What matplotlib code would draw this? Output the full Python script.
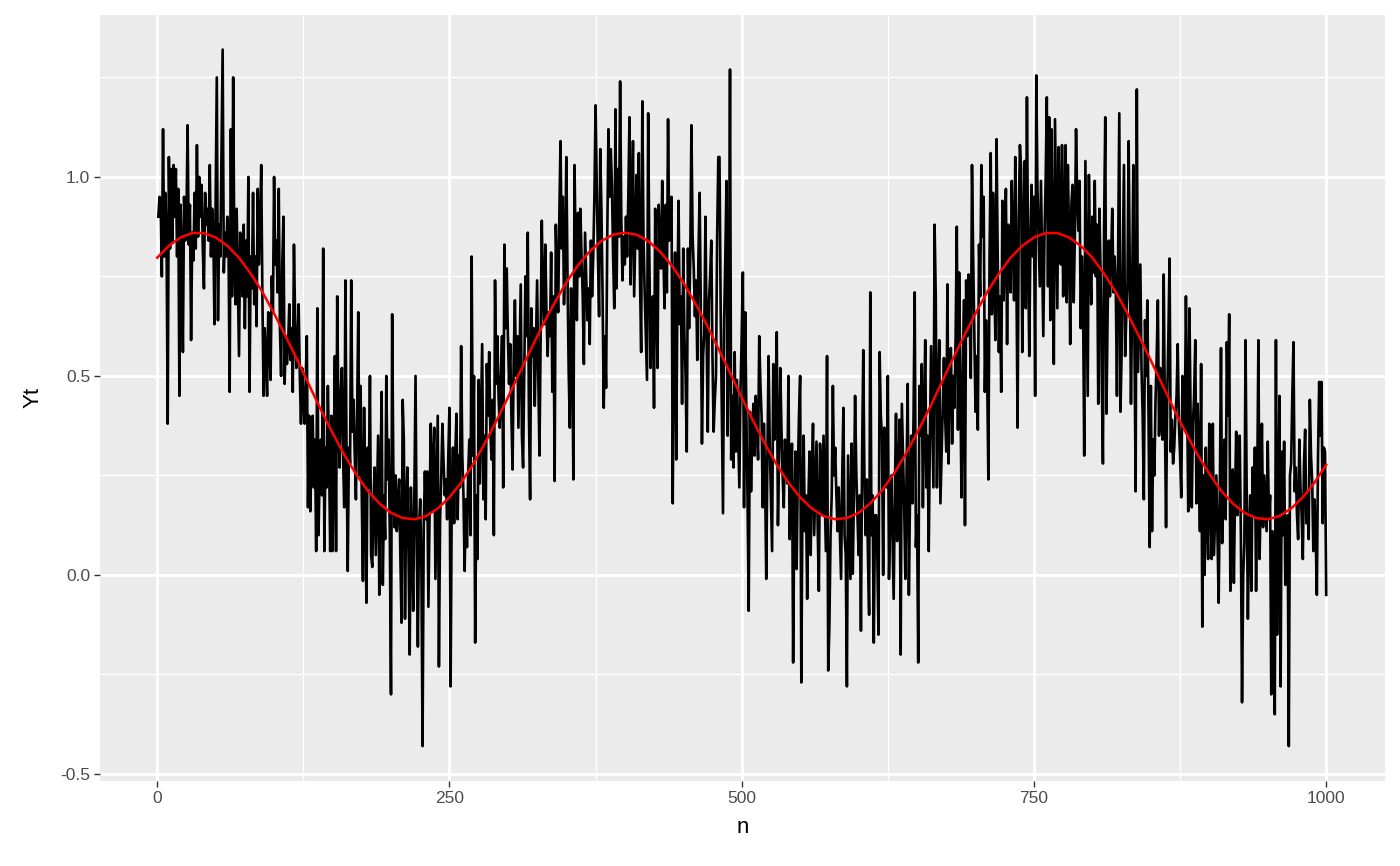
import matplotlib
matplotlib.use("Agg")
import matplotlib.pyplot as plt
import numpy as np

# ---- data ----
yt = [
    # n = 1..79
    0.90, 0.95, 0.94, 0.75, 1.12, 0.80, 0.96, 0.85, 0.38, 1.05,
    0.82, 1.02, 0.84, 1.03, 0.90, 1.02, 0.80, 0.97, 0.45, 0.93,
    0.80, 0.56, 0.95, 0.84, 0.88, 1.13, 0.83, 0.93, 0.59, 0.86,
    0.79, 0.96, 0.82, 1.08, 0.85, 1.00, 0.90, 0.98, 0.82, 0.72,
    0.96, 0.88, 0.92, 0.84, 1.03, 0.80, 0.92, 0.86, 0.63, 0.95,
    1.25, 0.64, 0.88, 0.80, 1.05, 1.32, 0.76, 0.86, 0.80, 0.90,
    0.84, 0.46, 1.12, 0.70, 1.25, 0.80, 0.68, 0.92, 0.74, 0.55,
    0.86, 0.80, 0.70, 0.88, 0.62, 0.84, 0.70, 1.00, 0.46,
    # n = 80..164
    0.80, 0.72, 0.96, 0.68, 0.80, 0.625, 0.97, 0.78, 0.88, 1.03,
    0.70, 0.45, 0.62, 0.55, 0.45, 0.66, 0.59, 0.49, 0.75, 0.66,
    1.00, 0.78, 0.84, 0.71, 0.97, 0.62, 0.50, 0.78, 0.90, 0.48,
    0.60, 0.53, 0.58, 0.68, 0.54, 0.62, 0.46, 0.83, 0.64, 0.52,
    0.58, 0.68, 0.50, 0.38, 0.52, 0.44, 0.38, 0.48, 0.60, 0.17,
    0.40, 0.16, 0.30, 0.40, 0.22, 0.34, 0.06, 0.67, 0.10, 0.26,
    0.34, 0.20, 0.82, 0.06, 0.32, 0.22, 0.475, 0.30, 0.06, 0.40,
    0.06, 0.28, 0.55, 0.06, 0.70, 0.40, 0.27, 0.46, 0.52, 0.30,
    0.17, 0.74, 0.30, 0.01, 0.32,
    # n = 165..250
    0.28, 0.74, 0.36, 0.44, 0.30, 0.19, 0.40, 0.66, 0.25, 0.475,
    0.20, -0.015, 0.42, 0.15, -0.07, 0.32, 0.22, 0.50, 0.05, 0.02,
    0.18, 0.27, 0.05, 0.20, 0.35, -0.05, 0.24, 0.46, -0.025, 0.20,
    0.09, 0.50, 0.24, 0.34, 0.10, -0.30, 0.655, 0.27, 0.12, 0.25,
    0.11, 0.18, 0.24, 0.05, -0.12, 0.44, 0.34, -0.11, 0.18, 0.27,
    0.05, -0.20, 0.22, 0.10, -0.09, 0.20, 0.50, 0.08, -0.18, 0.12,
    0.19, 0.02, -0.43, 0.12, 0.26, 0.14, 0.26, -0.08, 0.15, 0.38,
    0.16, 0.28, 0.37, -0.01, 0.20, 0.40, -0.23, 0.14, 0.25, 0.38,
    0.28, 0.20, 0.24, 0.14, 0.30, 0.42,
    # n = 251..335
    -0.28, 0.20, 0.32, 0.13, 0.30, 0.405, 0.14, 0.30, 0.22, 0.575,
    0.30, 0.20, 0.01, 0.19, 0.07, 0.25, 0.34, 0.10, 0.80, 0.30,
    0.50, -0.17, 0.20, 0.04, 0.49, 0.23, 0.40, 0.58, 0.19, 0.35,
    0.14, 0.53, 0.40, 0.56, 0.36, 0.29, 0.44, 0.10, 0.74, 0.48,
    0.60, 0.45, 0.37, 0.50, 0.60, 0.22, 0.83, 0.62, 0.77, 0.60,
    0.48, 0.58, 0.40, 0.265, 0.55, 0.69, 0.50, 0.60, 0.37, 0.55,
    0.73, 0.35, 0.27, 0.52, 0.75, 0.60, 0.86, 0.40, 0.19, 0.67,
    0.55, 0.62, 0.425, 0.58, 0.74, 0.50, 0.30, 0.60, 0.89, 0.70,
    0.63, 0.83, 0.66, 0.55, 0.66,
    # n = 336..420
    0.60, 0.81, 0.46, 0.70, 0.236, 0.88, 0.75, 0.66, 0.90, 1.09,
    0.82, 0.95, 0.68, 0.80, 1.05, 0.75, 0.51, 0.37, 0.72, 0.60,
    0.24, 1.03, 0.80, 0.64, 0.91, 0.75, 0.92, 0.80, 0.70, 0.53,
    0.86, 0.75, 0.64, 0.72, 0.58, 0.84, 0.70, 0.80, 0.95, 1.18,
    0.98, 0.80, 0.65, 1.07, 0.92, 0.70, 0.42, 0.60, 0.47, 0.85,
    1.12, 0.95, 1.07, 0.98, 0.80, 0.67, 1.17, 0.72, 1.02, 0.85,
    1.24, 0.90, 0.74, 0.85, 0.78, 0.90, 0.80, 0.95, 1.15, 0.73,
    0.90, 1.09, 0.70, 0.85, 1.005, 0.82, 1.06, 0.75, 0.56, 1.19,
    0.85, 0.71, 0.60, 0.49, 1.16,
    # n = 421..506
    0.80, 0.52, 0.62, 0.70, 0.42, 0.92, 0.70, 0.52, 0.93, 0.80,
    0.77, 0.99, 0.80, 0.67, 0.93, 0.71, 1.145, 0.84, 0.90, 0.95,
    0.18, 0.60, 0.81, 0.29, 0.70, 0.94, 0.63, 0.70, 0.43, 0.82,
    0.60, 0.50, 0.31, 0.82, 0.62, 0.80, 1.13, 0.85, 0.77, 0.65,
    0.74, 0.54, 0.80, 0.96, 0.68, 0.33, 0.55, 0.61, 0.90, 0.60,
    0.36, 0.69, 0.75, 0.84, 0.55, 0.36, 0.44, 0.50, 0.85, 1.05,
    1.05, 0.67, 0.40, 0.155, 0.64, 0.80, 0.99, 0.35, 0.60, 1.27,
    0.29, 0.45, 0.27, 0.56, 0.31, 0.49, 0.35, 0.22, 0.47, 0.60,
    0.76, 0.17, 0.66, 0.40, 0.19, -0.09,
    # n = 507..592
    0.41, 0.21, 0.35, 0.43, 0.30, 0.45, 0.38, 0.29, 0.60, 0.48,
    0.40, 0.17, 0.38, 0.25, -0.01, 0.30, 0.55, 0.33, 0.20, 0.06,
    0.53, 0.34, 0.45, 0.61, 0.125, 0.30, 0.52, 0.37, 0.25, 0.17,
    0.34, 0.28, 0.23, 0.50, 0.09, 0.20, 0.33, -0.22, 0.15, 0.31,
    0.015, 0.25, 0.40, 0.50, -0.27, 0.20, 0.35, 0.11, 0.20, -0.06,
    0.18, 0.31, 0.05, 0.25, 0.38, 0.10, 0.22, 0.335, 0.12, -0.04,
    0.33, 0.26, 0.15, 0.35, 0.20, 0.06, 0.55, -0.24, -0.13, 0.10,
    0.20, 0.475, 0.25, 0.32, 0.20, 0.11, 0.22, 0.10, -0.01, 0.25,
    0.42, 0.10, 0.05, -0.28, 0.30, 0.15,
    # n = 593..678
    -0.01, 0.33, 0.003, 0.20, 0.45, 0.265, 0.15, 0.05, 0.20, -0.14,
    0.30, 0.565, 0.24, 0.10, 0.24, 0.05, -0.10, 0.71, 0.10, 0.20,
    -0.17, 0.15, 0.15, 0.05, -0.15, 0.56, 0.40, 0.35, 0.00, 0.37,
    0.30, 0.22, 0.50, -0.01, 0.15, 0.25, 0.10, -0.06, 0.20, 0.405,
    0.085, 0.25, 0.39, -0.20, 0.43, 0.30, 0.17, -0.01, 0.25, 0.48,
    -0.05, 0.20, 0.35, 0.18, 0.40, 0.71, 0.07, 0.15, -0.22, 0.475,
    0.35, 0.53, 0.17, 0.40, 0.59, 0.22, 0.35, 0.06, 0.35, 0.575,
    0.40, 0.22, 0.88, 0.70, 0.22, 0.45, 0.59, 0.18, 0.30, 0.42,
    0.545, 0.40, 0.31, 0.73, 0.28, 0.56,
    # n = 679..763
    0.57, 0.33, 0.50, 0.42, 0.60, 0.875, 0.365, 0.76, 0.50, 0.195,
    0.45, 0.69, 0.125, 0.74, 0.60, 0.755, 0.65, 0.495, 1.03, 0.80,
    0.61, 0.41, 0.55, 0.365, 0.83, 0.70, 1.03, 0.85, 0.95, 0.46,
    0.64, 0.50, 0.24, 0.80, 1.06, 0.655, 0.96, 0.75, 0.59, 1.095,
    0.80, 0.56, 0.70, 0.46, 0.94, 0.69, 0.80, 0.97, 0.58, 0.88,
    0.80, 0.71, 0.99, 0.85, 0.69, 1.05, 0.75, 0.37, 0.90, 1.08,
    1.02, 0.56, 0.85, 1.04, 0.67, 1.20, 0.80, 0.55, 0.85, 0.98,
    0.80, 0.95, 0.45, 1.255, 0.97, 0.85, 0.725, 0.99, 0.80, 0.60,
    0.85, 0.99, 1.20, 0.725, 1.15,
    # n = 764..849
    0.64, 1.12, 0.80, 0.53, 1.145, 0.90, 0.67, 1.075, 0.90, 0.78,
    1.08, 0.70, 0.90, 1.08, 0.685, 1.03, 0.85, 0.58, 0.93, 0.98,
    0.685, 0.85, 1.12, 0.95, 0.865, 0.99, 0.62, 0.80, 0.69, 0.30,
    1.04, 0.75, 0.45, 1.005, 0.80, 0.68, 0.90, 0.76, 0.99, 0.75,
    0.88, 0.43, 0.92, 0.76, 0.50, 0.28, 0.88, 1.15, 0.405, 0.65,
    0.84, 0.70, 0.80, 0.92, 0.71, 0.80, 0.72, 0.45, 0.80, 1.16,
    0.41, 0.56, 0.80, 1.03, 0.55, 0.65, 0.73, 1.09, 0.75, 0.43,
    0.70, 1.03, 0.57, 0.21, 1.22, 0.51, 0.65, 0.78, 0.52, 0.40,
    0.19, 0.64, 0.50, 0.69, 0.40, 0.07,
    # n = 850..934
    0.475, 0.11, 0.34, 0.25, 0.44, 0.55, 0.69, 0.35, 0.52, 0.40,
    0.34, 0.755, 0.40, 0.12, 0.45, 0.60, 0.795, 0.31, 0.39, 0.28,
    0.32, 0.40, 0.45, 0.58, 0.38, 0.30, 0.195, 0.50, 0.40, 0.365,
    0.70, 0.45, 0.16, 0.67, 0.40, 0.17, 0.38, 0.45, 0.59, 0.18,
    0.43, 0.30, 0.11, 0.53, -0.13, 0.25, 0.00, 0.32, 0.15, 0.04,
    0.38, 0.20, 0.04, 0.38, 0.05, 0.15, 0.25, 0.10, -0.07, 0.21,
    0.57, 0.08, 0.25, 0.34, 0.14, 0.585, 0.40, 0.655, -0.04, 0.15,
    0.265, -0.02, 0.20, 0.36, 0.15, 0.24, 0.35, 0.10, -0.32, 0.00,
    0.08, 0.59, 0.20, -0.11, 0.11,
    # n = 935..1000
    0.20, -0.04, 0.27, 0.15, 0.32, -0.04, 0.23, 0.59, 0.04, 0.20,
    0.38, 0.12, 0.25, 0.18, 0.11, 0.335, 0.14, 0.20, -0.30, 0.11,
    0.00, -0.35, 0.59, -0.15, 0.20, 0.45, -0.28, 0.31, 0.10, 0.335,
    -0.025, 0.03, 0.15, -0.43, 0.25, 0.28, 0.45, 0.585, 0.21, 0.27,
    0.15, 0.09, 0.34, 0.22, 0.15, 0.04, 0.28, 0.365, 0.13, 0.20,
    0.09, 0.44, 0.30, 0.235, 0.06, 0.19, 0.10, -0.05, 0.30, 0.485,
    0.35, 0.485, 0.13, 0.32, 0.31, -0.05,
]
n = list(range(1, len(yt) + 1))

# fitted (red) curve, sampled every 10 steps of n
fit_n = list(range(0, 1001, 10))
fit_y = [
    0.797, 0.827, 0.848, 0.859, 0.859, 0.848, 0.827, 0.797, 0.757, 0.711,
    0.657, 0.599, 0.539, 0.477, 0.415, 0.357, 0.302, 0.254, 0.212, 0.180,
    0.156, 0.143, 0.140, 0.148, 0.167, 0.195, 0.232, 0.277, 0.329, 0.386,
    0.446, 0.508, 0.569, 0.629, 0.684, 0.735, 0.778, 0.813, 0.839, 0.855,
    0.860, 0.855, 0.839, 0.813, 0.778, 0.735, 0.684, 0.629, 0.569, 0.508,
    0.446, 0.386, 0.329, 0.277, 0.232, 0.195, 0.167, 0.148, 0.140, 0.143,
    0.156, 0.180, 0.212, 0.254, 0.302, 0.357, 0.415, 0.477, 0.539, 0.599,
    0.657, 0.711, 0.757, 0.797, 0.827, 0.848, 0.859, 0.859, 0.848, 0.827,
    0.797, 0.757, 0.711, 0.657, 0.599, 0.539, 0.477, 0.415, 0.357, 0.302,
    0.254, 0.212, 0.180, 0.156, 0.143, 0.140, 0.148, 0.167, 0.195, 0.232,
    0.277,
]

x_ticks = [0, 250, 500, 750, 1000]
x_minor = [125, 375, 625, 875]
y_ticks = [-0.5, 0.0, 0.5, 1.0]
y_tick_labels = ["-0.5", "0.0", "0.5", "1.0"]
y_minor = [-0.25, 0.25, 0.75, 1.25]

# ---- plot ----
plt.rcParams['font.family'] = ['Liberation Sans', 'DejaVu Sans']
fig = plt.figure(figsize=(14, 8.66), dpi=100)
left, right, bottom, top = 0.0714, 0.989, 0.0982, 0.983
ax = fig.add_axes([left, bottom, right - left, top - bottom])
ax.set_facecolor("#EBEBEB")

ax.plot(n, yt, color="black", lw=1.9, solid_joinstyle="round", zorder=3)
ax.plot(fit_n, fit_y, color="red", lw=1.8, zorder=4)

xr = max(n) - min(n)
ax.set_xlim(min(n) - 0.05 * xr, max(n) + 0.05 * xr)
yr = max(yt) - min(yt)
ax.set_ylim(min(yt) - 0.05 * yr, max(yt) + 0.05 * yr)

ax.set_xticks(x_ticks)
ax.set_xticklabels([str(t) for t in x_ticks])
ax.set_xticks(x_minor, minor=True)
ax.set_yticks(y_ticks)
ax.set_yticklabels(y_tick_labels)
ax.set_yticks(y_minor, minor=True)

ax.grid(which="major", color="white", lw=2.0, zorder=0)
ax.grid(which="minor", color="white", lw=1.0, zorder=0)
ax.set_axisbelow(True)
for s in ax.spines.values():
    s.set_visible(False)

ax.tick_params(which="major", length=4, width=1.0, color="#333333",
               labelcolor="#4D4D4D", labelsize=12.5, pad=3)
ax.tick_params(which="minor", length=0)

ax.set_xlabel("n", fontsize=16, color="black", labelpad=8)
ax.set_ylabel("Yt", fontsize=16, color="black", labelpad=12)

fig.savefig("out.png", dpi=100, facecolor="white")
